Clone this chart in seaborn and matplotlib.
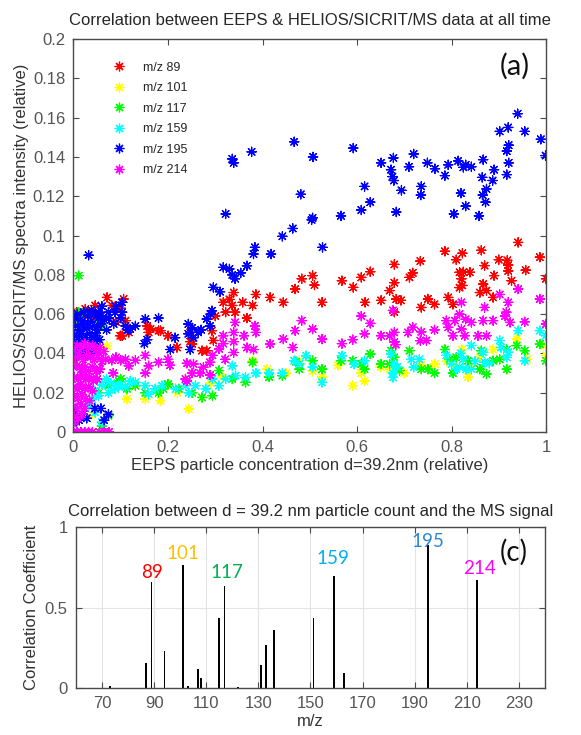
import matplotlib
matplotlib.use("Agg")
import numpy as np
import pandas as pd
import matplotlib.pyplot as plt
import seaborn as sns
from matplotlib.lines import Line2D

# ---------------------------------------------------------------------------
# values
# panel (a): (EEPS relative concentration, MS relative intensity) per ion
# ---------------------------------------------------------------------------
mz89 = [
    (0.941, 0.0965), (0.987, 0.089), (1.0, 0.078), (0.786, 0.092), (0.823, 0.091), (0.81, 0.0877),
    (0.863, 0.0925), (0.87, 0.0847), (0.90, 0.0877), (0.918, 0.0874), (0.92, 0.085), (0.92, 0.082),
    (0.957, 0.0824), (0.927, 0.077), (0.89, 0.0796), (0.817, 0.0813), (0.825, 0.0815), (0.839, 0.0813),
    (0.821, 0.078), (0.823, 0.0746), (0.817, 0.0735), (0.867, 0.0753), (0.874, 0.072), (0.86, 0.071),
    (0.888, 0.0685), (0.793, 0.0685), (0.803, 0.065), (0.734, 0.087), (0.718, 0.081), (0.711, 0.0787),
    (0.679, 0.0853), (0.679, 0.076), (0.669, 0.072), (0.683, 0.0677), (0.693, 0.067), (0.679, 0.061),
    (0.651, 0.067), (0.617, 0.066), (0.628, 0.0816), (0.609, 0.0787), (0.592, 0.0736), (0.568, 0.077),
    (0.75, 0.0677), (0.764, 0.065), (0.736, 0.0634), (0.506, 0.0796), (0.51, 0.0748), (0.483, 0.078),
    (0.526, 0.066), (0.469, 0.0728), (0.444, 0.066), (0.416, 0.0685), (0.386, 0.070), (0.379, 0.0644),
    (0.367, 0.058), (0.358, 0.066), (0.339, 0.071), (0.33, 0.0675), (0.336, 0.0644), (0.317, 0.066),
    (0.342, 0.061), (0.322, 0.061), (0.30, 0.059), (0.293, 0.0516), (0.296, 0.0466), (0.282, 0.0414),
    (0.272, 0.0414), (0.251, 0.0448), (0.247, 0.0507), (0.247, 0.046), (0.219, 0.043), (0.18, 0.0516),
    (0.156, 0.054), (0.159, 0.0507), (0.163, 0.0524), (0.184, 0.0516), (0.20, 0.049), (0.117, 0.0507),
    (0.103, 0.049), (0.099, 0.049), (0.106, 0.0677), (0.10, 0.063), (0.11, 0.0567), (0.071, 0.0685),
    (0.081, 0.0644), (0.046, 0.0644), (0.025, 0.0626), (0.0, 0.0567), (0.007, 0.061), (0.042, 0.058),
    (0.015, 0.058), (0.035, 0.060), (0.055, 0.059), (0.09, 0.056), (0.0, 0.042), (0.0, 0.037),
]
mz101 = [
    (0.938, 0.0473), (1.0, 0.039), (1.0, 0.044), (0.888, 0.042), (0.822, 0.042), (0.842, 0.034),
    (0.835, 0.028), (0.81, 0.033), (0.765, 0.0346), (0.736, 0.034), (0.669, 0.032), (0.616, 0.026),
    (0.591, 0.0236), (0.609, 0.030), (0.526, 0.028), (0.506, 0.031), (0.478, 0.0363), (0.96, 0.037),
    (0.86, 0.038), (0.79, 0.036), (0.70, 0.030), (0.65, 0.033), (0.56, 0.034), (0.45, 0.030),
    (0.41, 0.032), (0.379, 0.0363), (0.336, 0.027), (0.315, 0.028), (0.29, 0.025), (0.272, 0.0176),
    (0.244, 0.0117), (0.22, 0.020), (0.20, 0.024), (0.184, 0.016), (0.152, 0.0168), (0.131, 0.0236),
    (0.113, 0.0168), (0.071, 0.0436), (0.039, 0.009),
]
mz117 = [
    (0.987, 0.0448), (1.0, 0.0363), (0.955, 0.0414), (0.938, 0.044), (0.917, 0.042), (0.902, 0.037),
    (0.917, 0.032), (0.888, 0.0363), (0.874, 0.0295), (0.86, 0.032), (0.863, 0.0414), (0.835, 0.0363),
    (0.81, 0.038), (0.796, 0.037), (0.786, 0.042), (0.803, 0.030), (0.764, 0.030), (0.75, 0.032),
    (0.736, 0.032), (0.711, 0.0414), (0.69, 0.0313), (0.679, 0.038), (0.672, 0.0414), (0.669, 0.0346),
    (0.651, 0.0346), (0.628, 0.0397), (0.616, 0.032), (0.609, 0.0346), (0.591, 0.0363), (0.566, 0.0363),
    (0.526, 0.032), (0.506, 0.0363), (0.478, 0.032), (0.471, 0.0358), (0.442, 0.0287), (0.414, 0.028),
    (0.379, 0.0355), (0.364, 0.0253), (0.336, 0.027), (0.308, 0.0313), (0.294, 0.0185), (0.272, 0.0176),
    (0.251, 0.020), (0.223, 0.022), (0.20, 0.0244), (0.19, 0.022), (0.18, 0.020), (0.152, 0.020),
    (0.131, 0.0236), (0.113, 0.022), (0.096, 0.026), (0.10, 0.027), (0.074, 0.0236), (0.053, 0.020),
    (0.011, 0.0796), (0.011, 0.061), (0.02, 0.06), (0.01, 0.055), (0.005, 0.05), (0.057, 0.054),
    (0.053, 0.056), (0.074, 0.0083), (0.06, 0.003),
]
mz159 = [
    (0.987, 0.0516), (1.0, 0.049), (0.941, 0.0516), (0.955, 0.0363), (0.902, 0.0466), (0.905, 0.043),
    (0.92, 0.0406), (0.917, 0.038), (0.88, 0.035), (0.867, 0.0406), (0.87, 0.0355), (0.85, 0.036),
    (0.842, 0.044), (0.825, 0.037), (0.82, 0.04), (0.817, 0.033), (0.81, 0.032), (0.789, 0.039),
    (0.80, 0.0346), (0.831, 0.032), (0.842, 0.032), (0.732, 0.037), (0.715, 0.037), (0.72, 0.033),
    (0.679, 0.0346), (0.676, 0.030), (0.676, 0.0278), (0.672, 0.0397), (0.685, 0.033), (0.616, 0.0363),
    (0.594, 0.0346), (0.568, 0.0388), (0.526, 0.0253), (0.506, 0.033), (0.478, 0.0346), (0.492, 0.0388),
    (0.467, 0.0363), (0.442, 0.030), (0.414, 0.030), (0.386, 0.030), (0.364, 0.0278), (0.343, 0.0287),
    (0.336, 0.0337), (0.322, 0.027), (0.308, 0.0236), (0.294, 0.027), (0.28, 0.022), (0.258, 0.0236),
    (0.244, 0.020), (0.237, 0.0236), (0.216, 0.022), (0.187, 0.0236), (0.173, 0.022), (0.159, 0.0193),
    (0.152, 0.0236), (0.131, 0.0253), (0.12, 0.026), (0.11, 0.0228), (0.1, 0.024), (0.096, 0.0236),
    (0.088, 0.022), (0.08, 0.025), (0.074, 0.020), (0.07, 0.027), (0.06, 0.024), (0.053, 0.0185),
    (0.045, 0.021), (0.039, 0.0168), (0.032, 0.0134), (0.046, 0.010), (0.06, 0.005),
]
mz195 = [
    (0.336, 0.139), (0.339, 0.137), (0.377, 0.1426), (0.467, 0.1477), (0.507, 0.140), (0.592, 0.1445),
    (0.481, 0.121), (0.651, 0.137), (0.677, 0.1395), (0.672, 0.1335), (0.675, 0.130), (0.678, 0.128),
    (0.71, 0.135), (0.72, 0.1415), (0.616, 0.125), (0.628, 0.117), (0.609, 0.113), (0.694, 0.123),
    (0.683, 0.112), (0.736, 0.125), (0.735, 0.1206), (0.749, 0.137), (0.765, 0.134), (0.786, 0.1305),
    (0.793, 0.136), (0.814, 0.138), (0.825, 0.1347), (0.83, 0.136), (0.842, 0.135), (0.867, 0.1386),
    (0.865, 0.1296), (0.89, 0.1335), (0.887, 0.128), (0.874, 0.1237), (0.866, 0.1206), (0.872, 0.117),
    (0.82, 0.1216), (0.83, 0.115), (0.805, 0.111), (0.858, 0.110), (0.902, 0.153), (0.92, 0.155),
    (0.94, 0.162), (0.955, 0.153), (0.921, 0.146), (0.917, 0.143), (0.921, 0.137), (0.917, 0.131),
    (0.989, 0.149), (0.999, 0.1407), (0.566, 0.110), (0.506, 0.109), (0.322, 0.111), (0.464, 0.1036),
    (0.442, 0.0996), (0.504, 0.108), (0.527, 0.094), (0.418, 0.0906), (0.384, 0.094), (0.381, 0.0906),
    (0.367, 0.0846), (0.354, 0.081), (0.336, 0.080), (0.33, 0.083), (0.342, 0.078), (0.317, 0.0838),
    (0.296, 0.0736), (0.31, 0.0714), (0.293, 0.0617), (0.29, 0.060), (0.282, 0.0575), (0.289, 0.054),
    (0.27, 0.052), (0.264, 0.0507), (0.251, 0.053), (0.243, 0.055), (0.243, 0.050), (0.254, 0.048),
    (0.247, 0.042), (0.215, 0.048), (0.205, 0.042), (0.18, 0.058), (0.152, 0.0575), (0.156, 0.047),
    (0.15, 0.045), (0.131, 0.054), (0.12, 0.0524), (0.115, 0.052), (0.103, 0.066), (0.103, 0.061),
    (0.088, 0.061), (0.074, 0.061), (0.06, 0.064), (0.058, 0.059), (0.053, 0.061), (0.032, 0.090),
    (0.002, 0.058), (0.008, 0.060), (0.015, 0.057), (0.022, 0.061), (0.03, 0.059), (0.038, 0.062),
    (0.045, 0.060), (0.052, 0.058), (0.065, 0.057), (0.004, 0.054), (0.012, 0.052), (0.02, 0.055),
    (0.028, 0.053), (0.036, 0.056), (0.044, 0.054), (0.05, 0.052), (0.058, 0.055), (0.002, 0.049),
    (0.01, 0.047), (0.018, 0.05), (0.026, 0.048), (0.034, 0.05), (0.042, 0.047), (0.048, 0.049),
    (0.055, 0.047), (0.003, 0.044), (0.011, 0.042), (0.019, 0.045), (0.027, 0.043), (0.035, 0.045),
    (0.043, 0.042), (0.05, 0.044), (0.006, 0.039), (0.016, 0.040), (0.025, 0.039), (0.033, 0.041),
    (0.04, 0.039), (0.07, 0.052), (0.075, 0.058), (0.09, 0.064), (0.1, 0.058), (0.11, 0.054),
    (0.085, 0.055), (0.0, 0.005), (0.005, 0.008), (0.012, 0.006), (0.02, 0.009), (0.028, 0.007),
    (0.0, 0.012), (0.045, 0.012), (0.058, 0.012), (0.074, 0.009), (0.065, 0.006),
]
mz214 = [
    (0.987, 0.0677), (0.941, 0.0728), (0.902, 0.070), (0.92, 0.066), (0.916, 0.061), (0.913, 0.059),
    (0.924, 0.0558), (0.955, 0.0561), (1.0, 0.055), (0.867, 0.0567), (0.888, 0.0567), (0.87, 0.0634),
    (0.842, 0.0558), (0.817, 0.060), (0.807, 0.0567), (0.83, 0.0574), (0.821, 0.0524), (0.789, 0.0567),
    (0.793, 0.0533), (0.821, 0.066), (0.856, 0.049), (0.874, 0.049), (0.828, 0.049), (0.803, 0.049),
    (0.764, 0.052), (0.736, 0.051), (0.718, 0.0533), (0.708, 0.0507), (0.747, 0.0466), (0.734, 0.0465),
    (0.679, 0.0507), (0.669, 0.049), (0.679, 0.0458), (0.682, 0.0445), (0.651, 0.049), (0.616, 0.050),
    (0.609, 0.059), (0.628, 0.0553), (0.591, 0.047), (0.568, 0.045), (0.506, 0.0524), (0.526, 0.0473),
    (0.483, 0.0567), (0.676, 0.0619), (0.469, 0.0516), (0.464, 0.043), (0.444, 0.0473), (0.416, 0.0448),
    (0.384, 0.054), (0.386, 0.0507), (0.381, 0.042), (0.367, 0.043), (0.361, 0.049), (0.342, 0.0558),
    (0.339, 0.0507), (0.339, 0.046), (0.317, 0.049), (0.317, 0.045), (0.339, 0.0405), (0.321, 0.037),
    (0.308, 0.0423), (0.294, 0.039), (0.289, 0.0355), (0.275, 0.033), (0.254, 0.0346), (0.24, 0.035),
    (0.24, 0.026), (0.268, 0.030), (0.289, 0.029), (0.251, 0.030), (0.237, 0.027), (0.204, 0.034),
    (0.20, 0.037), (0.18, 0.0355), (0.159, 0.0337), (0.152, 0.039), (0.131, 0.0365), (0.117, 0.0337),
    (0.11, 0.037), (0.10, 0.0365), (0.081, 0.0365), (0.084, 0.030), (0.152, 0.030), (0.09, 0.038),
    (0.0, 0.042), (0.008, 0.044), (0.016, 0.043), (0.024, 0.045), (0.032, 0.043), (0.04, 0.044),
    (0.048, 0.042), (0.056, 0.043), (0.064, 0.041), (0.004, 0.038), (0.012, 0.039), (0.02, 0.037),
    (0.028, 0.039), (0.036, 0.038), (0.044, 0.037), (0.052, 0.039), (0.06, 0.036), (0.068, 0.037),
    (0.0, 0.033), (0.008, 0.034), (0.016, 0.032), (0.024, 0.033), (0.032, 0.031), (0.04, 0.033),
    (0.048, 0.031), (0.056, 0.032), (0.002, 0.028), (0.01, 0.027), (0.018, 0.029), (0.026, 0.027),
    (0.034, 0.028), (0.042, 0.026), (0.05, 0.027), (0.0, 0.023), (0.008, 0.022), (0.016, 0.024),
    (0.024, 0.022), (0.032, 0.023), (0.04, 0.021), (0.002, 0.018), (0.01, 0.017), (0.018, 0.019),
    (0.026, 0.017), (0.034, 0.016), (0.0, 0.013), (0.008, 0.012), (0.016, 0.014), (0.024, 0.012),
    (0.002, 0.008), (0.01, 0.007), (0.018, 0.009), (0.0, 0.004), (0.0, 0.0), (0.008, 0.0),
    (0.016, 0.0), (0.024, 0.0), (0.032, 0.0), (0.04, 0.0), (0.055, 0.0), (0.065, 0.0), (0.075, 0.0),
]

series_labels = ["m/z 89", "m/z 101", "m/z 117", "m/z 159", "m/z 195", "m/z 214"]
series_colors = ["#ff0000", "#ffff00", "#00ff00", "#00ffff", "#0000ff", "#ff00ff"]
series_points = [mz89, mz101, mz117, mz159, mz195, mz214]

a_yticks = [0, 0.02, 0.04, 0.06, 0.08, 0.1, 0.12, 0.14, 0.16, 0.18, 0.2]
a_yticklabels = ["0", "0.02", "0.04", "0.06", "0.08", "0.1", "0.12", "0.14", "0.16", "0.18", "0.2"]
a_xticks = [0, 0.2, 0.4, 0.6, 0.8, 1]
a_xticklabels = ["0", "0.2", "0.4", "0.6", "0.8", "1"]

# panel (c): correlation coefficient per m/z
bar_mz = [73, 87, 89, 94, 101, 103, 107, 108, 115, 117, 122, 131, 133, 136, 151, 159, 163, 195, 214]
bar_r = [0.01, 0.155, 0.656, 0.228, 0.763, 0.01, 0.117, 0.062, 0.432, 0.632, 0.005,
         0.141, 0.266, 0.36, 0.432, 0.695, 0.093, 0.89, 0.674]
thin_peaks = [89, 94, 117, 151]

peak_text = ["89", "101", "117", "159", "195", "214"]
peak_text_x = [89, 101, 118, 158.5, 195, 215]
peak_text_y = [0.685, 0.804, 0.685, 0.769, 0.876, 0.707]
peak_text_colors = ["#ff0000", "#ffc000", "#00b050", "#00b0f0", "#2e86d0", "#ff00ff"]

c_xticks = [70, 90, 110, 130, 150, 170, 190, 210, 230]
c_yticks = [0, 0.5, 1]
c_yticklabels = ["0", "0.5", "1"]

# ---------------------------------------------------------------------------
sns.set_theme(style="ticks")
plt.rcParams["font.family"] = ["Liberation Sans", "DejaVu Sans"]
axis_grey = "#4a4a4a"
star = (8, 2, 0)

rows = []
for lab, pts in zip(series_labels, series_points):
    for x, y in pts:
        rows.append({"series": lab, "x": x, "y": y})
df = pd.DataFrame(rows)

fig = plt.figure(figsize=(5.81, 7.35), dpi=100)
ax = fig.add_axes([0.1265, 0.4122, 0.8133, 0.5347])
axc = fig.add_axes([0.1308, 0.0639, 0.8072, 0.2190])

# ---- (a) scatter ----
sns.scatterplot(data=df, x="x", y="y", hue="series", hue_order=series_labels,
                palette=dict(zip(series_labels, series_colors)), marker=star,
                s=44, linewidth=0.9, legend=False, ax=ax)
ax.set_xlim(0, 1)
ax.set_ylim(0, 0.2)
ax.set_xticks(a_xticks)
ax.set_xticklabels(a_xticklabels)
ax.set_yticks(a_yticks)
ax.set_yticklabels(a_yticklabels)
ax.set_xlabel("EEPS particle concentration d=39.2nm (relative)", fontsize=12, color="#333333", labelpad=2)
ax.set_ylabel("HELIOS/SICRIT/MS spectra intensity (relative)", fontsize=12, color="#333333", labelpad=3)
ax.set_title("Correlation between EEPS & HELIOS/SICRIT/MS data at all time", fontsize=12, pad=10)

handles = [Line2D([], [], marker=star, linestyle="none", color=c, markersize=7, markeredgewidth=0.9)
           for c in series_colors]
ax.legend(handles, series_labels, loc="upper left", bbox_to_anchor=(0.07, 0.955), frameon=False,
          fontsize=9, handlelength=1.2, handletextpad=1.3, labelspacing=0.68, borderaxespad=0)
ax.text(0.935, 0.93, "(a)", transform=ax.transAxes, ha="center", va="center",
        fontsize=21, family=["Lato", "DejaVu Sans"], color="#111111")

# ---- (c) bars ----
axc.set_axisbelow(True)
axc.grid(True, color="#e3e3e3", linewidth=0.8)
for mz, r in zip(bar_mz, bar_r):
    w = 0.35 if mz in thin_peaks else 0.75
    axc.bar(mz, r, width=w, color="black", linewidth=0)
for t, x, y, c in zip(peak_text, peak_text_x, peak_text_y, peak_text_colors):
    axc.text(x, y, t, color=c, ha="center", va="baseline", fontsize=13.5, family=["Lato", "DejaVu Sans"])
axc.text(228, 0.845, "(c)", ha="center", va="center", fontsize=20, family=["Lato", "DejaVu Sans"],
         color="#111111")
axc.set_xlim(60, 240)
axc.set_ylim(0, 1)
axc.set_xticks(c_xticks)
axc.set_yticks(c_yticks)
axc.set_yticklabels(c_yticklabels)
axc.set_xlabel("m/z", fontsize=12, color="#333333", labelpad=2)
axc.set_ylabel("Correlation Coefficient", fontsize=12, color="#333333", labelpad=4)
axc.set_title("Correlation between d = 39.2 nm particle count and the MS signal", fontsize=12, pad=8)

for a in (ax, axc):
    a.tick_params(direction="in", top=True, right=True, length=4, width=0.8,
                  color=axis_grey, labelcolor="#555555", labelsize=12, pad=6)
    for sp in a.spines.values():
        sp.set_visible(True)
        sp.set_color(axis_grey)
        sp.set_linewidth(1.0)

fig.savefig("out.png", dpi=100)
